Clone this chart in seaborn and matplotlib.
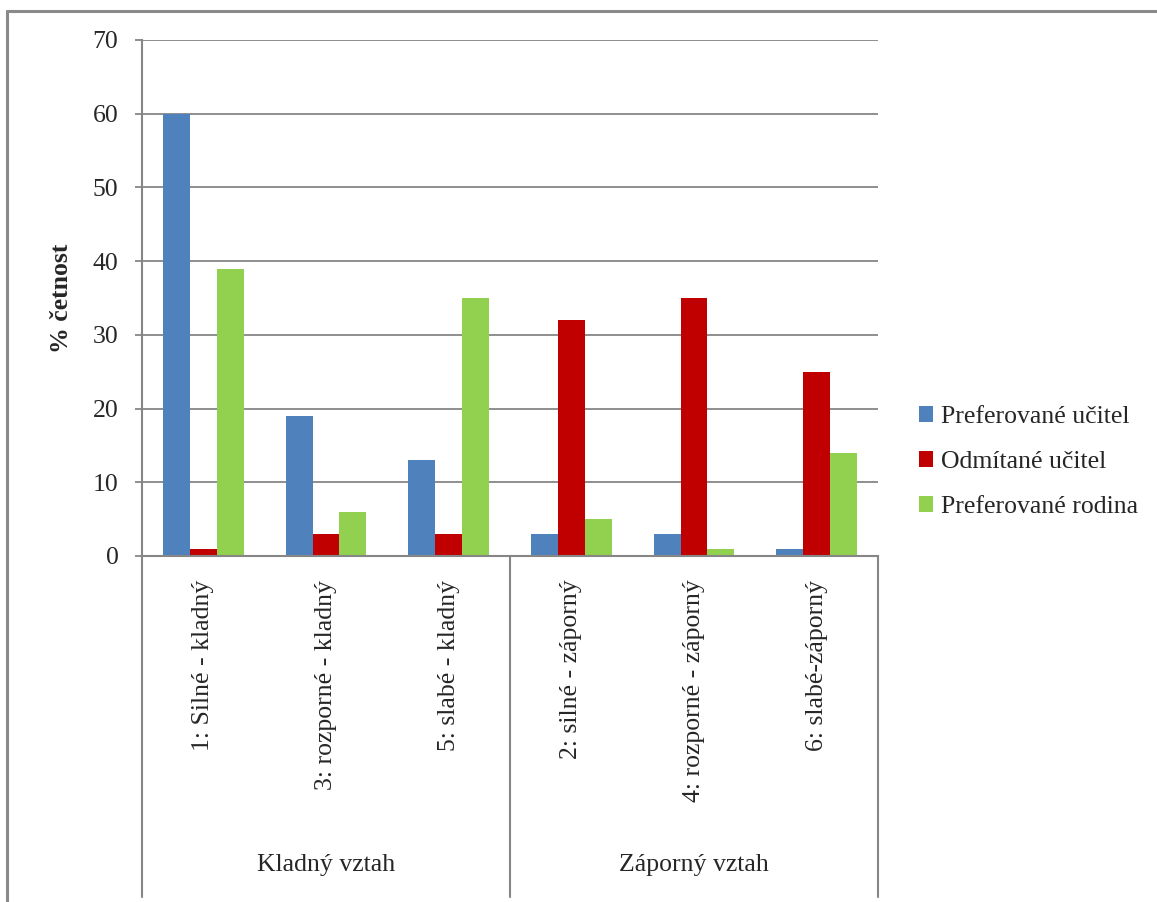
import matplotlib
matplotlib.use("Agg")
import matplotlib.pyplot as plt
from matplotlib.lines import Line2D
from matplotlib.patches import Patch
import seaborn as sns
import pandas as pd

categories = [
    "1: Silné - kladný",
    "3: rozporné - kladný",
    "5: slabé - kladný",
    "2: silné - záporný",
    "4: rozporné - záporný",
    "6: slabé-záporný",
]
groups = ["Kladný vztah", "Záporný vztah"]
series = ["Preferované učitel", "Odmítané učitel", "Preferované rodina"]
pref_ucitel = [60, 19, 13, 3, 3, 1]
odm_ucitel = [1, 3, 3, 32, 35, 25]
pref_rodina = [39, 6, 35, 5, 1, 14]
yticks = [0, 10, 20, 30, 40, 50, 60, 70]
colors = ["#4F81BD", "#C00000", "#92D050"]
grey = "#868686"

rows = []
for name, vals in zip(series, [pref_ucitel, odm_ucitel, pref_rodina]):
    for cat, v in zip(categories, vals):
        rows.append({"kategorie": cat, "hodnota": v, "serie": name})
df = pd.DataFrame(rows)

sns.set_style("white")
plt.rcParams["font.family"] = ["Liberation Serif", "DejaVu Serif"]
fs = 18.5

fig = plt.figure(figsize=(11.57, 9.02), dpi=100)
W, H = 1157, 902
ax = fig.add_axes([142 / W, 1 - 556 / H, (878 - 142) / W, (556 - 40) / H])

sns.barplot(data=df, x="kategorie", y="hodnota", hue="serie", order=categories,
            hue_order=series, palette=colors, width=0.66, saturation=1,
            linewidth=0, ax=ax, legend=False)

ax.set_xlim(-0.5, len(categories) - 0.5)
ax.set_ylim(0, 70)
ax.set_yticks(yticks)
ax.set_yticklabels([str(t) for t in yticks], fontsize=fs)
ax.grid(axis="y", color=grey, linewidth=1.3)
ax.set_axisbelow(True)
for s in ["top", "right"]:
    ax.spines[s].set_visible(False)
for s in ["left", "bottom"]:
    ax.spines[s].set_color(grey)
    ax.spines[s].set_linewidth(1.5)
ax.tick_params(axis="y", which="both", left=True, length=5, width=1.3,
               color=grey, pad=12)
ax.tick_params(axis="x", length=0, pad=17)
ax.set_xticks(range(len(categories)))
ax.set_xticklabels(categories, rotation=90, fontsize=fs)
ax.set_xlabel("")
ax.set_ylabel("% četnost", fontsize=fs, fontweight="bold", labelpad=14)

# group separators and group captions below the category labels
y_low = -(897 - 556) / (556 - 40)
trans = ax.get_xaxis_transform()
for xv in [-0.5, 2.5, 5.5]:
    ax.add_line(Line2D([xv, xv], [0, y_low], transform=trans, color=grey,
                       linewidth=1.5, clip_on=False))
ax.text(1.0, -(865 - 556) / (556 - 40), groups[0], transform=trans,
        ha="center", va="center", fontsize=fs)
ax.text(4.0, -(865 - 556) / (556 - 40), groups[1], transform=trans,
        ha="center", va="center", fontsize=fs)

handles = [Patch(facecolor=c, edgecolor="none") for c in colors]
fig.legend(handles, series, loc="center left",
           bbox_to_anchor=(919 / W, 1 - 462 / H), frameon=False, fontsize=fs,
           handlelength=0.55, handleheight=0.55, handletextpad=0.3,
           labelspacing=0.9, borderpad=0, borderaxespad=0)

# outer chart frame
fig.add_artist(Line2D([7 / W, 7 / W], [0, 1 - 11 / H], transform=fig.transFigure,
                      color="#8a8a8a", linewidth=2.2))
fig.add_artist(Line2D([7 / W, 1], [1 - 11 / H, 1 - 11 / H], transform=fig.transFigure,
                      color="#8a8a8a", linewidth=2.2))

fig.savefig("out.png", dpi=100)
